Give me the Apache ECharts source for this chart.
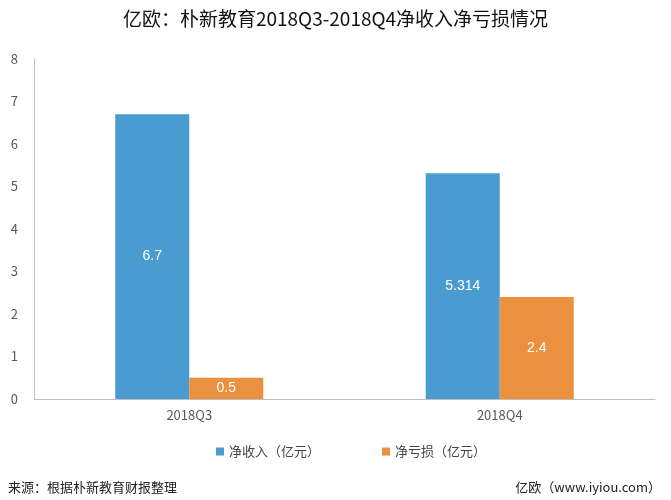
<!DOCTYPE html>
<html lang="zh">
<head>
  <meta charset="utf-8">
</head>
<body style="margin: 0">
  <div id="container" style="width: 671px; height: 500px"></div>
  <script src="https://cdn.jsdelivr.net/npm/echarts@6/dist/echarts.min.js"></script>
  <script>
    var categories = ['2018Q3', '2018Q4'];
    var revenue = [6.7, 5.314];
    var loss = [0.5, 2.4];
    var seriesNames = ['净收入（亿元）', '净亏损（亿元）'];
    var yTicks = [0, 1, 2, 3, 4, 5, 6, 7, 8];

    var font = '"Noto Sans CJK SC", "Noto Sans", sans-serif';
    var chart = echarts.init(document.getElementById('container'), null, { renderer: 'canvas' });

    var labelStyle = {
      show: true,
      position: 'inside',
      color: '#fff',
      fontSize: 14,
      fontFamily: '"Liberation Sans", Arial, sans-serif'
    };

    var option = {
      animation: false,
      title: [
        {
          text: '亿欧：朴新教育2018Q3-2018Q4净收入净亏损情况',
          left: 'center',
          top: 4,
          textStyle: { fontSize: 19, fontWeight: 'normal', color: '#111', fontFamily: font }
        },
        {
          text: '来源：根据朴新教育财报整理',
          left: 3,
          top: 476,
          textStyle: { fontSize: 13, fontWeight: 'normal', color: '#222', fontFamily: font }
        },
        {
          text: '亿欧（www.iyiou.com）',
          right: 5,
          top: 476,
          textStyle: { fontSize: 13, fontWeight: 'normal', color: '#222', fontFamily: font }
        }
      ],
      legend: {
        bottom: 37,
        left: 211,
        itemWidth: 8,
        itemHeight: 8,
        itemGap: 62,
        icon: 'rect',
        textStyle: { fontSize: 13, color: '#444', fontFamily: font }
      },
      grid: { left: 34, right: 16, top: 59, bottom: 101 },
      xAxis: {
        type: 'category',
        data: categories,
        axisLine: { lineStyle: { color: '#bfbfbf' } },
        axisTick: { show: false },
        axisLabel: { fontSize: 13, color: '#595959', margin: 10, fontFamily: font }
      },
      yAxis: {
        type: 'value',
        min: yTicks[0],
        max: yTicks[yTicks.length - 1],
        interval: 1,
        splitLine: { show: false },
        axisLine: { show: true, lineStyle: { color: '#bfbfbf' } },
        axisTick: { show: false },
        axisLabel: { fontSize: 13, color: '#595959', margin: 16, fontFamily: font }
      },
      series: [
        {
          name: seriesNames[0],
          type: 'bar',
          data: revenue,
          barWidth: 74,
          barGap: '0%',
          itemStyle: { color: '#4a9cd0' },
          label: labelStyle
        },
        {
          name: seriesNames[1],
          type: 'bar',
          data: loss,
          barWidth: 74,
          itemStyle: { color: '#eb903e' },
          label: labelStyle
        }
      ]
    };
    chart.setOption(option);
  </script>
</body>
</html>
